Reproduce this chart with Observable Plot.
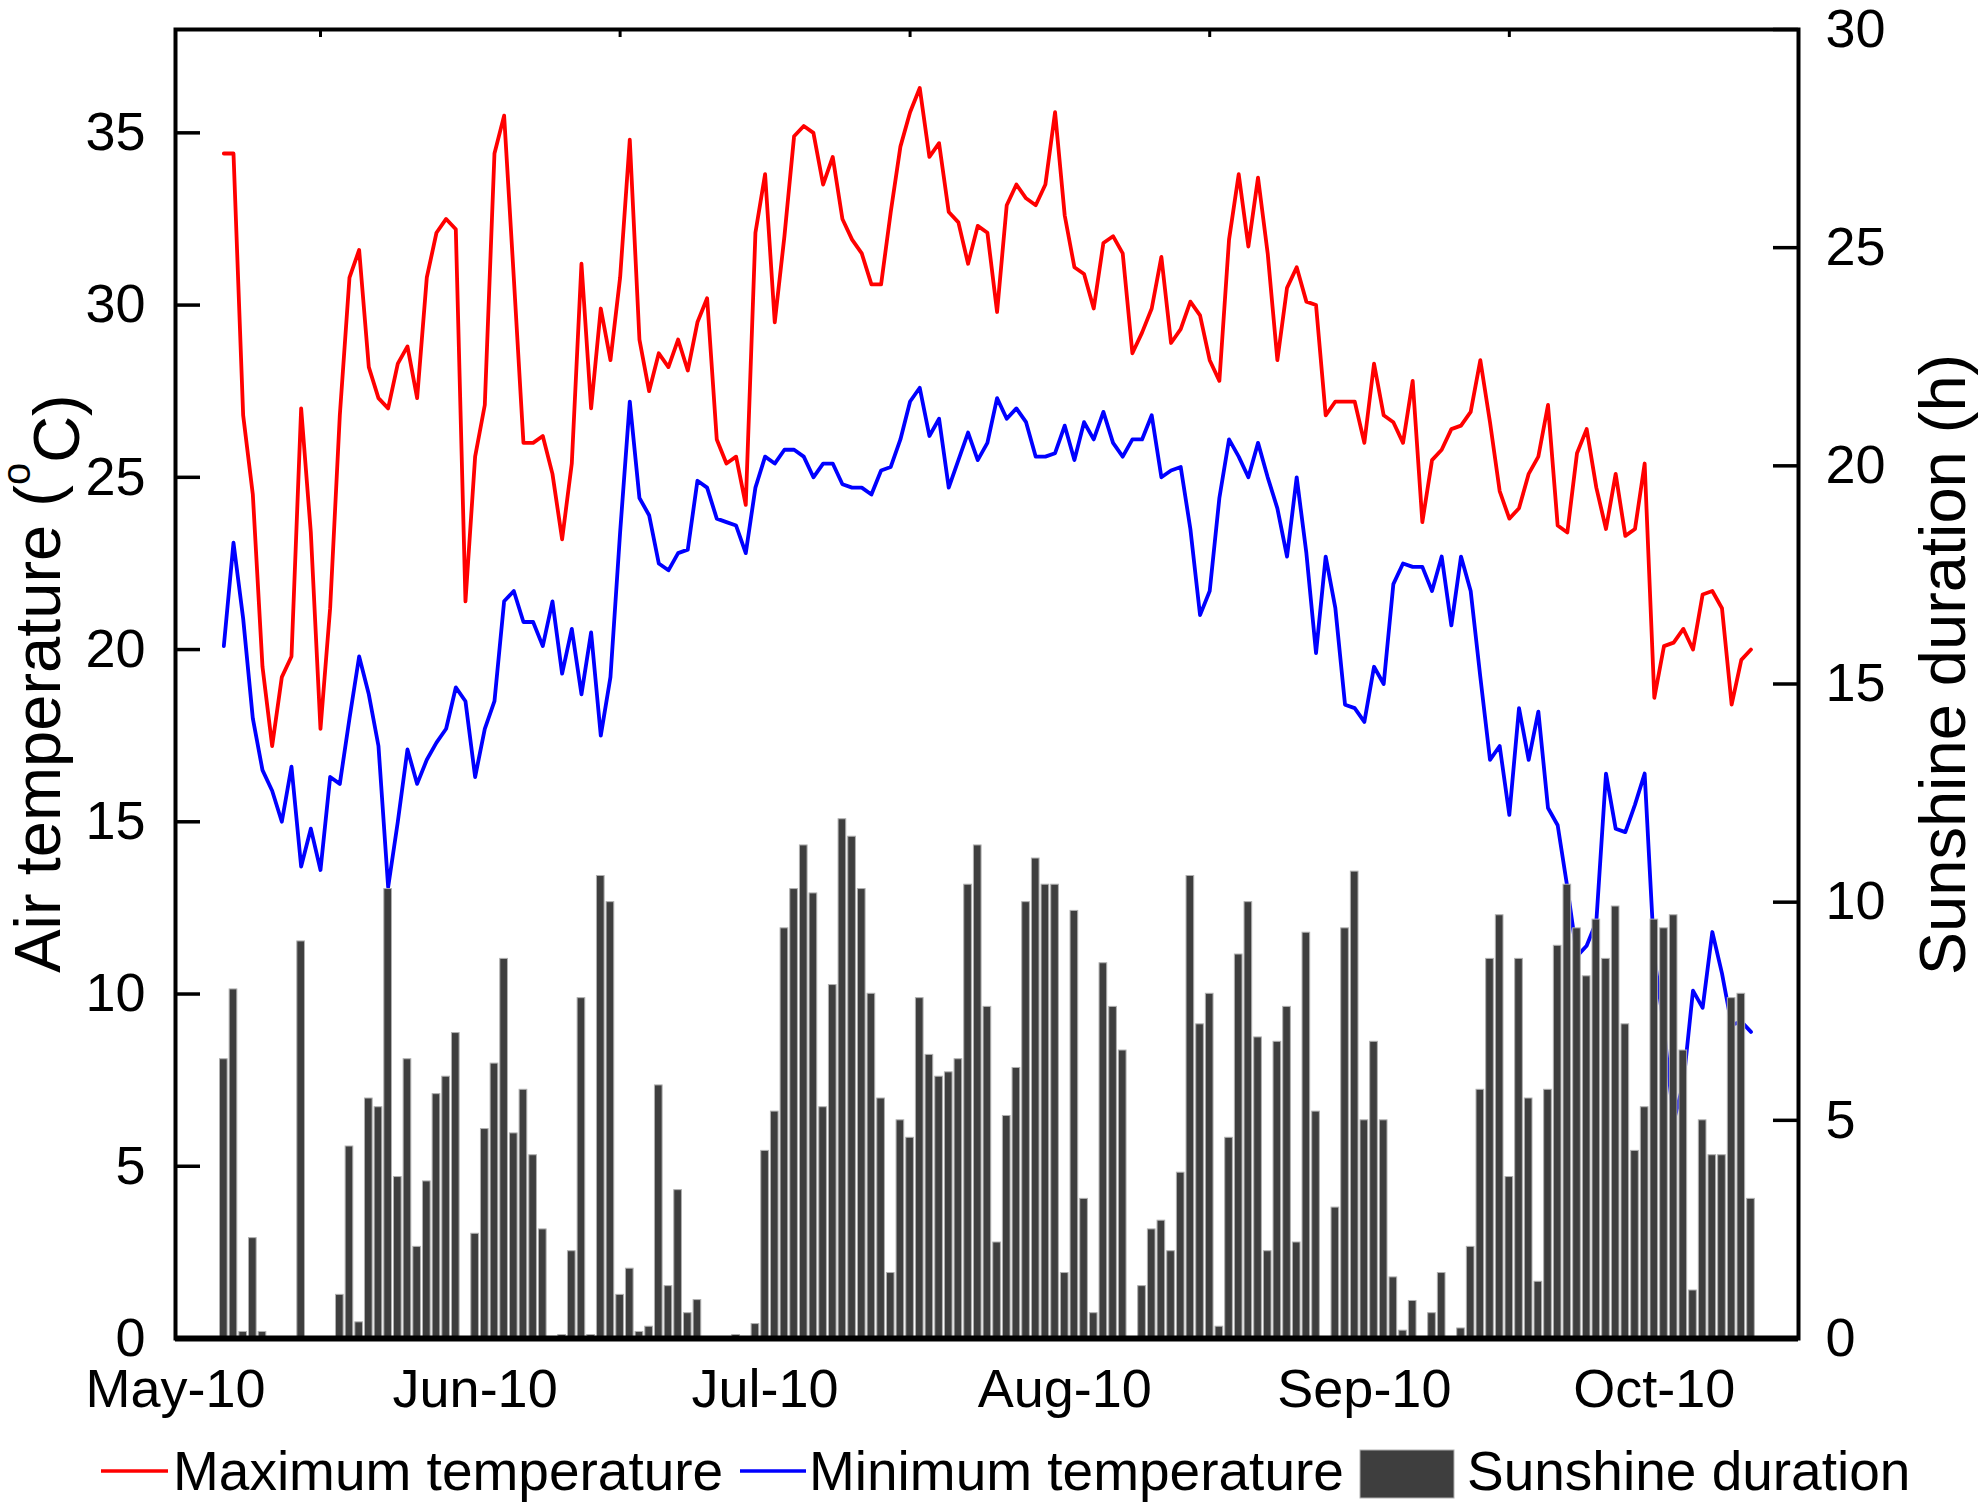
<!DOCTYPE html>
<html>
<head>
<meta charset="utf-8">
<script src="https://cdn.jsdelivr.net/npm/d3@7"></script>
<script src="https://cdn.jsdelivr.net/npm/@observablehq/plot@0.6"></script>
<style>
  body { margin: 0; background: #ffffff; }
  #chart { width: 1983px; font-family: "Liberation Sans", Arial, sans-serif; }
  svg { display: block; }
</style>
</head>
<body>
<div id="chart"></div>
<script>
// ---- data (daily, starting 2010-05-06) ----
const startDate = "2010-05-06";

const maxTemp = [
  34.4, 34.4, 26.8, 24.5, 19.5, 17.2, 19.2, 19.8, 27.0, 23.4,
  17.7, 21.2, 26.8, 30.8, 31.6, 28.2, 27.3, 27.0, 28.3, 28.8,
  27.3, 30.8, 32.1, 32.5, 32.2, 21.4, 25.6, 27.1, 34.4, 35.5,
  30.8, 26.0, 26.0, 26.2, 25.1, 23.2, 25.4, 31.2, 27.0, 29.9,
  28.4, 30.8, 34.8, 29.0, 27.5, 28.6, 28.2, 29.0, 28.1, 29.5,
  30.2, 26.1, 25.4, 25.6, 24.2, 32.1, 33.8, 29.5, 32.0, 34.9,
  35.2, 35.0, 33.5, 34.3, 32.5, 31.9, 31.5, 30.6, 30.6, 32.7,
  34.6, 35.6, 36.3, 34.3, 34.7, 32.7, 32.4, 31.2, 32.3, 32.1,
  29.8, 32.9, 33.5, 33.1, 32.9, 33.5, 35.6, 32.6, 31.1, 30.9,
  29.9, 31.8, 32.0, 31.5, 28.6, 29.2, 29.9, 31.4, 28.9, 29.3,
  30.1, 29.7, 28.4, 27.8, 31.9, 33.8, 31.7, 33.7, 31.5, 28.4,
  30.5, 31.1, 30.1, 30.0, 26.8, 27.2, 27.2, 27.2, 26.0, 28.3,
  26.8, 26.6, 26.0, 27.8, 23.7, 25.5, 25.8, 26.4, 26.5, 26.9,
  28.4, 26.6, 24.6, 23.8, 24.1, 25.1, 25.6, 27.1, 23.6, 23.4,
  25.7, 26.4, 24.7, 23.5, 25.1, 23.3, 23.5, 25.4, 18.6, 20.1,
  20.2, 20.6, 20.0, 21.6, 21.7, 21.2, 18.4, 19.7, 20.0
];

const minTemp = [
  20.1, 23.1, 20.9, 18.0, 16.5, 15.9, 15.0, 16.6, 13.7, 14.8,
  13.6, 16.3, 16.1, 18.0, 19.8, 18.7, 17.2, 13.1, 15.0, 17.1,
  16.1, 16.8, 17.3, 17.7, 18.9, 18.5, 16.3, 17.7, 18.5, 21.4,
  21.7, 20.8, 20.8, 20.1, 21.4, 19.3, 20.6, 18.7, 20.5, 17.5,
  19.2, 23.4, 27.2, 24.4, 23.9, 22.5, 22.3, 22.8, 22.9, 24.9,
  24.7, 23.8, 23.7, 23.6, 22.8, 24.7, 25.6, 25.4, 25.8, 25.8,
  25.6, 25.0, 25.4, 25.4, 24.8, 24.7, 24.7, 24.5, 25.2, 25.3,
  26.1, 27.2, 27.6, 26.2, 26.7, 24.7, 25.5, 26.3, 25.5, 26.0,
  27.3, 26.7, 27.0, 26.6, 25.6, 25.6, 25.7, 26.5, 25.5, 26.6,
  26.1, 26.9, 26.0, 25.6, 26.1, 26.1, 26.8, 25.0, 25.2, 25.3,
  23.5, 21.0, 21.7, 24.4, 26.1, 25.6, 25.0, 26.0, 25.0, 24.1,
  22.7, 25.0, 22.8, 19.9, 22.7, 21.2, 18.4, 18.3, 17.9, 19.5,
  19.0, 21.9, 22.5, 22.4, 22.4, 21.7, 22.7, 20.7, 22.7, 21.7,
  19.2, 16.8, 17.2, 15.2, 18.3, 16.8, 18.2, 15.4, 14.9, 13.1,
  11.1, 11.4, 12.1, 16.4, 14.8, 14.7, 15.5, 16.4, 11.1, 9.0,
  6.3, 7.4, 10.1, 9.6, 11.8, 10.6, 9.1, 9.2, 8.9
];

const sunshine = [
  6.4, 8.0, 0.15, 2.3, 0.15, 0, 0, 0, 9.1, 0,
  0, 0, 1.0, 4.4, 0.37, 5.5, 5.3, 10.3, 3.7, 6.4,
  2.1, 3.6, 5.6, 6.0, 7.0, 0, 2.4, 4.8, 6.3, 8.7,
  4.7, 5.7, 4.2, 2.5, 0, 0.08, 2.0, 7.8, 0.08, 10.6,
  10.0, 1.0, 1.6, 0.15, 0.27, 5.8, 1.2, 3.4, 0.58, 0.88,
  0, 0, 0, 0.08, 0, 0.33, 4.3, 5.2, 9.4, 10.3,
  11.3, 10.2, 5.3, 8.1, 11.9, 11.5, 10.3, 7.9, 5.5, 1.5,
  5.0, 4.6, 7.8, 6.5, 6.0, 6.1, 6.4, 10.4, 11.3, 7.6,
  2.2, 5.1, 6.2, 10.0, 11.0, 10.4, 10.4, 1.5, 9.8, 3.2,
  0.58, 8.6, 7.6, 6.6, 0, 1.2, 2.5, 2.7, 2.0, 3.8,
  10.6, 7.2, 7.9, 0.27, 4.6, 8.8, 10.0, 6.9, 2.0, 6.8,
  7.6, 2.2, 9.3, 5.2, 0, 3.0, 9.4, 10.7, 5.0, 6.8,
  5.0, 1.4, 0.18, 0.86, 0, 0.58, 1.5, 0, 0.23, 2.1,
  5.7, 8.7, 9.7, 3.7, 8.7, 5.5, 1.3, 5.7, 9.0, 10.4,
  9.4, 8.3, 9.6, 8.7, 9.9, 7.2, 4.3, 5.3, 9.6, 9.4,
  9.7, 6.6, 1.1, 5.0, 4.2, 4.2, 7.8, 7.9, 3.2
];

const leftTicks = [0, 5, 10, 15, 20, 25, 30, 35];
const rightTicks = [0, 5, 10, 15, 20, 25, 30];
const monthTicks = ["2010-05-01", "2010-06-01", "2010-07-01", "2010-08-01", "2010-09-01", "2010-10-01"];
const midMonthTicks = ["2010-05-16", "2010-06-16", "2010-07-16", "2010-08-16", "2010-09-16"];
const xDomain = ["2010-05-01T00:00Z", "2010-10-15T22:00Z"];
const tempMax = 38;   // left axis top
const sunMax = 30;    // right axis top

const leftTitle = "Air temperature (";
const rightTitle = "Sunshine duration (h)";
const legendItems = ["Maximum temperature", "Minimum temperature", "Sunshine duration"];

// ---- build table ----
const k = tempMax / sunMax;
const start = new Date(startDate + "T00:00Z");
const rows = maxTemp.map((v, i) => ({
  date: d3.utcDay.offset(start, i),
  tmax: v,
  tmin: minTemp[i],
  sun: sunshine[i]
}));

const W = 1983, H = 1420;
const mL = 175, mR = 185, mT = 29, mB = 82;
const plotW = W - mL - mR, plotH = H - mT - mB;
const font = '"Liberation Sans", Arial, sans-serif';

const chart = Plot.plot({
  width: W,
  height: H,
  marginLeft: mL,
  marginRight: mR,
  marginTop: mT,
  marginBottom: mB,
  style: { fontFamily: font, color: "#000", background: "#fff", overflow: "visible" },
  x: { type: "utc", domain: xDomain.map(d => new Date(d)) },
  y: { domain: [0, tempMax] },
  marks: [
    Plot.lineY(rows, { x: "date", y: "tmax", stroke: "#ff0000", strokeWidth: 3.8 }),
    Plot.lineY(rows, { x: "date", y: "tmin", stroke: "#0000ff", strokeWidth: 3.8 }),
    Plot.rect(rows, {
      x1: d => d3.utcHour.offset(d.date, -12),
      x2: d => d3.utcHour.offset(d.date, 12),
      y1: 0,
      y2: d => d.sun * k,
      fill: "#3e3e3e",
      stroke: "#b0b0b0",
      strokeWidth: 1,
      insetLeft: 1,
      insetRight: 1
    }),
    Plot.frame({ stroke: "#000", strokeWidth: 4 }),
    Plot.ruleY([0], { stroke: "#000", strokeWidth: 6 }),
    Plot.ruleY(leftTicks, { stroke: "#000", strokeWidth: 3.5, insetRight: plotW - 25 }),
    Plot.ruleY(rightTicks.map(v => v * k), { stroke: "#000", strokeWidth: 3.5, insetLeft: plotW - 25 }),
    Plot.ruleX(midMonthTicks.map(d => new Date(d + "T00:00Z")), { stroke: "#000", strokeWidth: 3, insetBottom: plotH - 8 }),
    Plot.axisY({ anchor: "left", ticks: leftTicks, tickSize: 0, tickPadding: 30, fontSize: 54, label: null }),
    Plot.axisY({
      anchor: "right",
      ticks: rightTicks.map(v => v * k),
      tickFormat: d => String(Math.round(d / k)),
      tickSize: 0, tickPadding: 27, fontSize: 54, label: null
    }),
    Plot.axisX({
      ticks: monthTicks.map(d => new Date(d + "T00:00Z")),
      tickFormat: d3.utcFormat("%b-%y"),
      tickSize: 0, tickPadding: 30, fontSize: 54, label: null
    })
  ]
});

// axis titles
const svg = d3.select(chart);
const lt = svg.append("text")
  .attr("transform", `translate(60,${mT + plotH / 2}) rotate(-90)`)
  .attr("text-anchor", "middle")
  .attr("font-family", font)
  .attr("font-size", 65)
  .attr("fill", "#000");
lt.append("tspan").text(leftTitle);
lt.append("tspan").attr("font-size", 40).attr("dy", "-0.75em").text("o");
lt.append("tspan").attr("dy", "0.75em").text("C)");

svg.append("text")
  .attr("transform", `translate(1965,${mT + plotH / 2 - 19}) rotate(-90)`)
  .attr("text-anchor", "middle")
  .attr("font-family", font)
  .attr("font-size", 65)
  .attr("fill", "#000")
  .text(rightTitle);

document.getElementById("chart").appendChild(chart);

// legend below the plot
const leg = d3.select("#chart").append("svg")
  .attr("width", W).attr("height", 87)
  .attr("font-family", font);
leg.append("line").attr("x1", 101).attr("x2", 168).attr("y1", 51).attr("y2", 51)
  .attr("stroke", "#ff0000").attr("stroke-width", 3.5);
leg.append("text").attr("x", 173).attr("y", 70).attr("font-size", 55).text(legendItems[0]);
leg.append("line").attr("x1", 740).attr("x2", 806).attr("y1", 51).attr("y2", 51)
  .attr("stroke", "#0000ff").attr("stroke-width", 3.5);
leg.append("text").attr("x", 809).attr("y", 70).attr("font-size", 55).text(legendItems[1]);
leg.append("rect").attr("x", 1360).attr("y", 30).attr("width", 94).attr("height", 48)
  .attr("fill", "#3e3e3e").attr("stroke", "#b0b0b0").attr("stroke-width", 1);
leg.append("text").attr("x", 1467).attr("y", 70).attr("font-size", 55).text(legendItems[2]);
</script>
</body>
</html>
